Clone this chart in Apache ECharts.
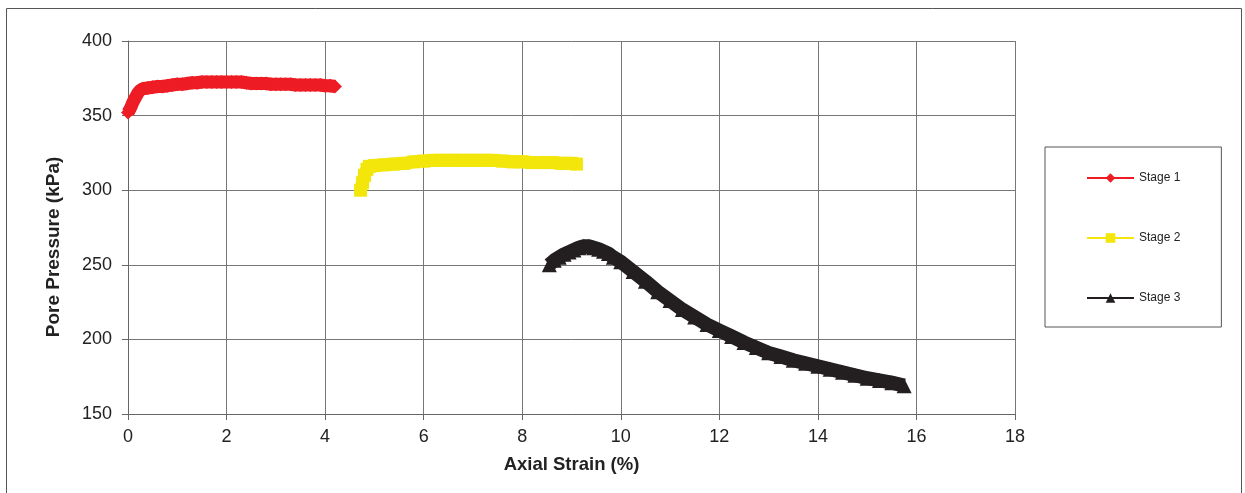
<!DOCTYPE html>
<html>
<head>
<meta charset="utf-8">
<script src="https://cdn.jsdelivr.net/npm/echarts@6/dist/echarts.min.js"></script>
<style>
html,body{margin:0;padding:0;background:#fff;}
#chart{width:1245px;height:493px;}
</style>
</head>
<body>
<div id="chart"></div>
<script>
// Stage 1 (red)
const stage1Strain = [0.00,0.05,0.10,0.15,0.20,0.25,0.30,0.40,0.50,0.60,0.70,0.80,0.90,1.00,1.10,1.20,1.30,1.40,1.50,1.60,1.70,1.80,1.90,2.00,2.10,2.20,2.30,2.40,2.50,2.60,2.70,2.80,2.90,3.00,3.10,3.20,3.30,3.40,3.50,3.60,3.70,3.80,3.90,4.00,4.10,4.20];
const stage1Pressure = [352,355,359,362,365,367,368,368.5,369,369.5,369.5,370,370.5,371,371,371.5,372,372,372.5,372.5,372.5,372.5,372.5,372.5,372.5,372.5,372.5,372,371.5,371.5,371.5,371.5,371,371,371,371,371,370.5,370.5,370.5,370.5,370.5,370.5,370,370,369.5];
// Stage 2 (yellow)
const stage2Strain = [4.72,4.76,4.80,4.85,4.90,5.00,5.20,5.40,5.60,5.80,6.00,6.20,6.40,6.60,6.80,7.00,7.20,7.40,7.60,7.80,8.00,8.20,8.40,8.60,8.80,9.00,9.10];
const stage2Pressure = [300,305,310,314,316,316.5,317,317.5,318,319,319.5,320,320,320,320,320,320,320,319.5,319,319,318.5,318.5,318.5,318,318,317.5];
// Stage 3 (black)
const stage3Strain = [8.55,8.65,8.75,8.85,8.95,9.05,9.15,9.25,9.35,9.45,9.55,9.65,9.75,9.85,10.00,10.25,10.50,10.75,11.00,11.25,11.50,11.75,12.00,12.25,12.50,12.75,13.00,13.25,13.50,13.75,14.00,14.25,14.50,14.75,15.00,15.25,15.50,15.75];
const stage3Pressure = [250,253,255,257,258.5,260,261.5,262.5,262.5,261.5,260.5,259,257.5,255,252,245.5,239,232,226,220,215,210,206,202,198,194.5,191,188.5,186,184,182,180,178,176,174,172.5,171,169];
const seriesNames = ['Stage 1','Stage 2','Stage 3'];
const xTicks = {min:0,max:18,interval:2};
const yTicks = {min:150,max:400,interval:50};
const xTitle = 'Axial Strain (%)';
const yTitle = 'Pore Pressure (kPa)';

function pairs(xs, ys){ return xs.map((x,i)=>[x, ys[i]]); }

const FONT = '"Liberation Sans", Arial, sans-serif';
const chart = echarts.init(document.getElementById('chart'));
function mkSeries(name, xs, ys, color, symbol, size, lw){
  return {
    name: name, type: 'line', data: pairs(xs, ys),
    symbol: symbol, symbolSize: size, showSymbol: true,
    itemStyle: {color: color},
    lineStyle: {color: color, width: lw},
    animation: false
  };
}
chart.setOption({
  animation: false,
  backgroundColor: '#fff',
  graphic: [{
    type: 'rect', shape: {x:6.5,y:8.5,width:1235,height:500},
    style: {fill: 'none', stroke: '#555', lineWidth: 1}, silent: true, z: -1
  },{
    type: 'text', x: 54, y: 247, rotation: Math.PI/2,
    style: {text: yTitle, font: 'bold 19px ' + FONT, fill: '#222', align: 'center', verticalAlign: 'middle'},
    silent: true
  }],
  grid: {left: 128, right: 230, top: 41, bottom: 79, containLabel: false},
  xAxis: {
    type: 'value', min: xTicks.min, max: xTicks.max, interval: xTicks.interval,
    name: xTitle, nameLocation: 'middle', nameGap: 41,
    nameTextStyle: {fontFamily: FONT, fontSize: 18.5, fontWeight: 'bold', color: '#222'},
    axisLine: {show: true, lineStyle: {color: '#666', width: 1}},
    axisTick: {show: true, inside: false, length: 6, lineStyle: {color: '#666'}},
    axisLabel: {fontFamily: FONT, fontSize: 18, color: '#222', margin: 14},
    splitLine: {show: true, lineStyle: {color: '#777', width: 1}}
  },
  yAxis: {
    type: 'value', min: yTicks.min, max: yTicks.max, interval: yTicks.interval,
    axisLine: {show: true, lineStyle: {color: '#666', width: 1}},
    axisTick: {show: true, inside: false, length: 6, lineStyle: {color: '#666'}},
    axisLabel: {fontFamily: FONT, fontSize: 18, color: '#222', margin: 16},
    splitLine: {show: true, lineStyle: {color: '#777', width: 1}}
  },
  legend: {
    orient: 'vertical', left: 1045, top: 147,
    padding: [25, 41, 23, 41],
    itemGap: 48, itemWidth: 47, itemHeight: 12,
    borderColor: '#555', borderWidth: 1, backgroundColor: '#fff',
    textStyle: {fontFamily: FONT, fontSize: 12, color: '#222'},
    lineStyle: {width: 2},
    data: seriesNames
  },
  series: [
    mkSeries(seriesNames[0], stage1Strain, stage1Pressure, '#ee1c24', 'diamond', 14, 13),
    mkSeries(seriesNames[1], stage2Strain, stage2Pressure, '#f2e60a', 'rect', 13, 13),
    mkSeries(seriesNames[2], stage3Strain, stage3Pressure, '#231f20', 'triangle', 15, 14)
  ]
});
</script>
</body>
</html>
